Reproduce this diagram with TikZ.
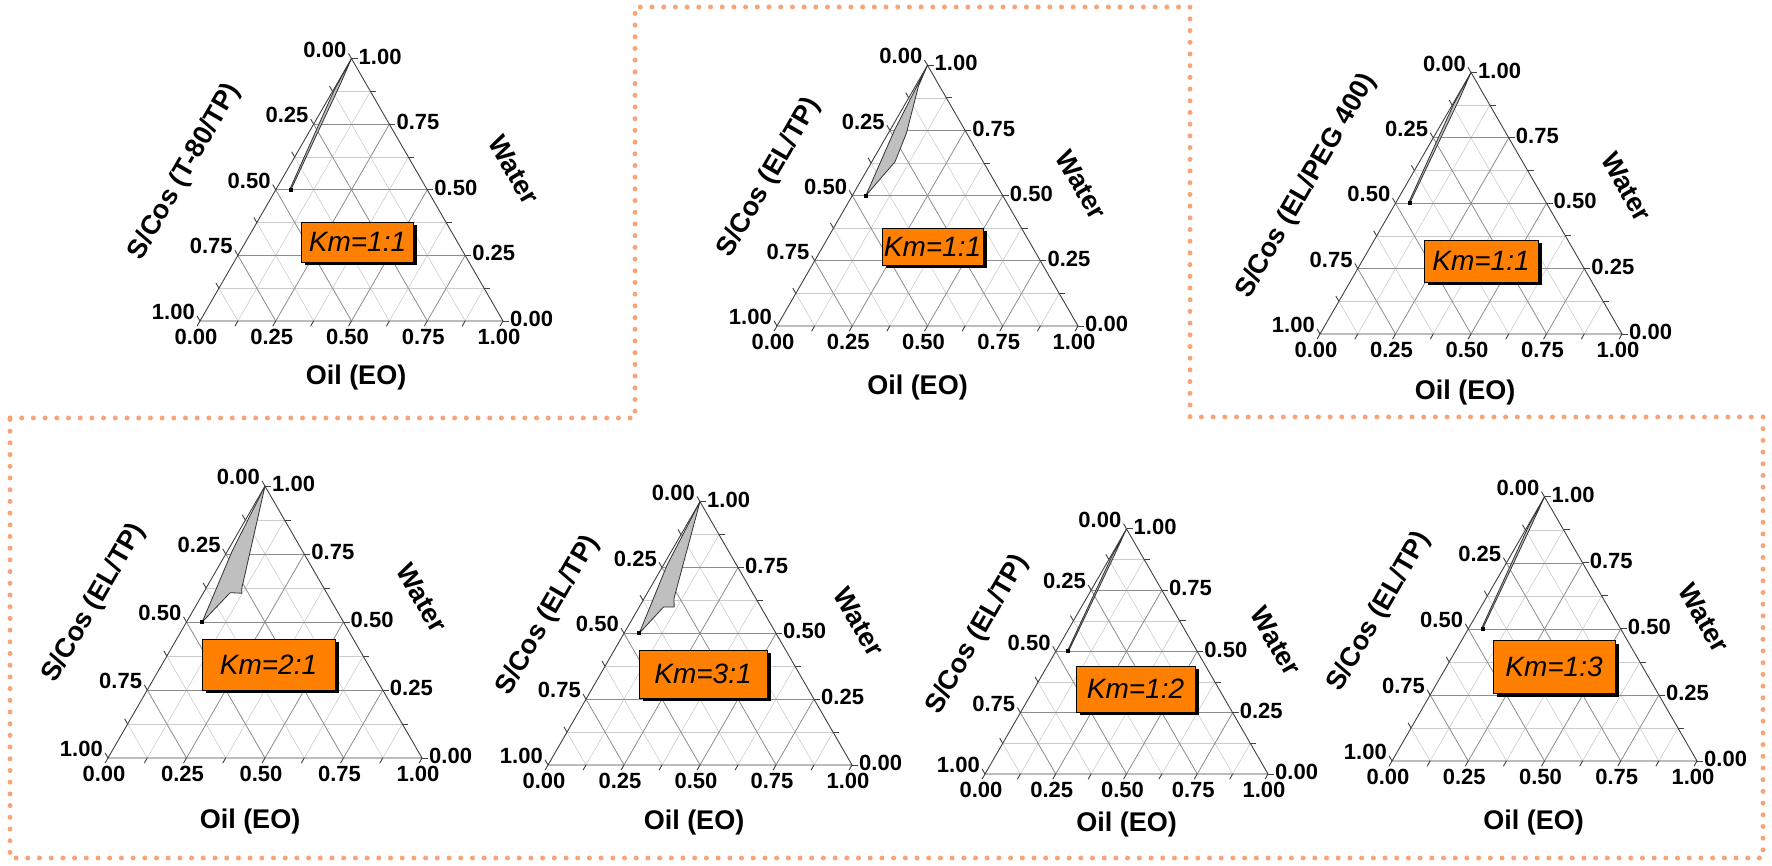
\documentclass[tikz,border=0pt]{standalone}
\usepackage{fontspec}
\setmainfont{Liberation Sans}
\usetikzlibrary{shadows}

\definecolor{kmorange}{RGB}{255,128,0}
\definecolor{dotorange}{RGB}{247,165,120}

\tikzset{
  minorgrid/.style={draw=black!20, line width=0.6pt},
  majorgrid/.style={draw=black!45, line width=0.8pt},
  frameline/.style={draw=black!75, line width=0.9pt},
  ticklabel/.style={inner sep=0pt, font=\fontsize{22}{22}\selectfont\bfseries},
  axtitle/.style={inner sep=0pt, font=\fontsize{27}{27}\selectfont\bfseries},
  kmbox/.style={draw=black, line width=0.8pt, fill=kmorange, inner sep=0pt,
    font=\fontsize{28}{28}\selectfont\itshape,
    drop shadow={shadow xshift=3.5pt, shadow yshift=-3.5pt, fill=black, opacity=1}},
  region/.style={fill=black!25, draw=black!80, line width=0.8pt, line join=round},
  dotborder/.style={draw=dotorange, line width=5pt, line cap=round, dash pattern=on 0pt off 11.7pt}
}

% triangle frame in ternary units: x = oil, y = water
\newcommand{\ternframe}[1]{%
  \foreach \fr in {0.125,0.375,0.625,0.875}{
    \draw[minorgrid] (0,\fr) -- ({1-\fr},\fr);
    \draw[minorgrid] (\fr,0) -- (\fr,{1-\fr});
    \draw[minorgrid] ({1-\fr},0) -- (0,{1-\fr});
  }
  \foreach \fr in {0.25,0.5,0.75}{
    \draw[majorgrid] (0,\fr) -- ({1-\fr},\fr);
    \draw[majorgrid] (\fr,0) -- (\fr,{1-\fr});
    \draw[majorgrid] ({1-\fr},0) -- (0,{1-\fr});
  }
  \draw[frameline] (0,0) -- (1,0) -- (0,1) -- cycle;
  \foreach \fr in {0,0.125,...,1}{
    \draw[frameline] (\fr,0) -- ++(-3pt,-5.2pt);
    \draw[frameline] (0,\fr) -- ++(-3pt,5.2pt);
    \draw[frameline] ({1-\fr},\fr) -- ++(6pt,0pt);
  }
  \foreach \val/\lab [count=\i] in {0/0.00,0.25/0.25,0.5/0.50,0.75/0.75,1/1.00}{
    \node[ticklabel, anchor=north, xshift=-4pt, yshift=-8pt] (#1-b\i) at (\val,0) {\lab};
    \node[ticklabel, anchor=east, xshift=-5pt, yshift=9pt] (#1-l\i) at (0,{1-\val}) {\lab};
    \node[ticklabel, anchor=west, xshift=7pt, yshift=2pt] (#1-r\i) at ({1-\val},\val) {\lab};
  }
}

\begin{document}
\begin{tikzpicture}[x=1pt, y=1pt]
  \useasboundingbox (0,0) rectangle (1772,866);

  % dotted frame round the two groups
  \draw[dotborder] (10,448) -- (635,448) -- (635,859) -- (1190,859) -- (1190,449)
    -- (1763,449) -- (1763,8) -- (10,8) -- cycle;

  % top row
  \begin{scope}[shift={(200,545)}, x={(303pt,0pt)}, y={(151.5pt,262.4pt)}]
    \ternframe{t1}
    \filldraw[region] (0,1) -- (0.012,0.9) -- (0.05,0.5) -- (0.045,0.505) -- (0.003,0.88) -- cycle;
    \fill (0.05,0.5) ++(-2pt,-2pt) rectangle ++(4pt,4pt);
    \node[axtitle, xshift=4.5pt, yshift=-57pt] (oil1) at (0.5,0) {Oil (EO)};
    \node[axtitle, xshift=86.5pt, yshift=20pt, rotate=-60] (water1) at (0.5,0.5) {Water};
    \node[axtitle, xshift=-91pt, yshift=18pt, rotate=60] (scos1) at (0,0.5) {S/Cos (T-80/TP)};
    \node[kmbox, minimum width=112pt, minimum height=40pt] (km1) at (157.5pt,79pt) {Km=1:1};
  \end{scope}

  \begin{scope}[shift={(777,540)}, x={(301pt,0pt)}, y={(150.5pt,260.7pt)}]
    \ternframe{t2}
    \filldraw[region] (0,1) -- (0.01,0.92) -- (0.06,0.74) -- (0.077,0.63) -- (0.045,0.5) -- (0.015,0.75) -- cycle;
    \fill (0.045,0.5) ++(-2pt,-2pt) rectangle ++(4pt,4pt);
    \node[axtitle, xshift=-10pt, yshift=-62pt] (oil2) at (0.5,0) {Oil (EO)};
    \node[axtitle, xshift=78.5pt, yshift=11pt, rotate=-60] (water2) at (0.5,0.5) {Water};
    \node[axtitle, xshift=-83pt, yshift=18pt, rotate=60] (scos2) at (0,0.5) {S/Cos (EL/TP)};
    \node[kmbox, minimum width=101pt, minimum height=37pt] (km2) at (155.5pt,79.5pt) {Km=1:1};
  \end{scope}

  \begin{scope}[shift={(1320,532)}, x={(302pt,0pt)}, y={(151pt,261.5pt)}]
    \ternframe{t3}
    \filldraw[region] (0,1) -- (0.012,0.9) -- (0.047,0.5) -- (0.042,0.505) -- (0.003,0.88) -- cycle;
    \fill (0.047,0.5) ++(-2pt,-2pt) rectangle ++(4pt,4pt);
    \node[axtitle, xshift=-6pt, yshift=-59pt] (oil3) at (0.5,0) {Oil (EO)};
    \node[axtitle, xshift=80pt, yshift=16pt, rotate=-60] (water3) at (0.5,0.5) {Water};
    \node[axtitle, xshift=-89pt, yshift=17pt, rotate=60] (scos3) at (0,0.5) {S/Cos (EL/PEG 400)};
    \node[kmbox, minimum width=114pt, minimum height=42pt] (km3) at (161pt,73pt) {Km=1:1};
  \end{scope}

  % bottom row
  \begin{scope}[shift={(108,108)}, x={(314pt,0pt)}, y={(157pt,271.9pt)}]
    \ternframe{b1}
    \filldraw[region] (0,1) -- (0.114,0.624) -- (0.123,0.606) -- (0.085,0.608) -- (0.05,0.5) -- (0.015,0.76) -- cycle;
    \fill (0.05,0.5) ++(-2pt,-2pt) rectangle ++(4pt,4pt);
    \node[axtitle, xshift=-15pt, yshift=-64pt] (oil4) at (0.5,0) {Oil (EO)};
    \node[axtitle, xshift=78.5pt, yshift=24pt, rotate=-60] (water4) at (0.5,0.5) {Water};
    \node[axtitle, xshift=-92pt, yshift=19pt, rotate=60] (scos4) at (0,0.5) {S/Cos (EL/TP)};
    \node[kmbox, minimum width=133pt, minimum height=51pt] (km4) at (160.5pt,93.5pt) {Km=2:1};
  \end{scope}

  \begin{scope}[shift={(548,101)}, x={(304pt,0pt)}, y={(152pt,263.3pt)}]
    \ternframe{b2}
    \filldraw[region] (0,1) -- (0.098,0.633) -- (0.115,0.6) -- (0.08,0.6) -- (0.05,0.5) -- (0.012,0.76) -- cycle;
    \fill (0.05,0.5) ++(-2pt,-2pt) rectangle ++(4pt,4pt);
    \node[axtitle, xshift=-6pt, yshift=-58pt] (oil5) at (0.5,0) {Oil (EO)};
    \node[axtitle, xshift=83pt, yshift=11.5pt, rotate=-60] (water5) at (0.5,0.5) {Water};
    \node[axtitle, xshift=-76pt, yshift=18pt, rotate=60] (scos5) at (0,0.5) {S/Cos (EL/TP)};
    \node[kmbox, minimum width=128pt, minimum height=48pt] (km5) at (155pt,91pt) {Km=3:1};
  \end{scope}

  \begin{scope}[shift={(985,92)}, x={(283pt,0pt)}, y={(141.5pt,245.1pt)}]
    \ternframe{b3}
    \filldraw[region] (0,1) -- (0.012,0.88) -- (0.045,0.5) -- (0.04,0.505) -- (0.004,0.89) -- cycle;
    \fill (0.045,0.5) ++(-2pt,-2pt) rectangle ++(4pt,4pt);
    \node[axtitle, xshift=0pt, yshift=-51pt] (oil6) at (0.5,0) {Oil (EO)};
    \node[axtitle, xshift=78.5pt, yshift=10pt, rotate=-60] (water6) at (0.5,0.5) {Water};
    \node[axtitle, xshift=-78pt, yshift=17pt, rotate=60] (scos6) at (0,0.5) {S/Cos (EL/TP)};
    \node[kmbox, minimum width=119pt, minimum height=46pt] (km6) at (150.5pt,85pt) {Km=1:2};
  \end{scope}

  \begin{scope}[shift={(1392,105)}, x={(305pt,0pt)}, y={(152.5pt,264.1pt)}]
    \ternframe{b4}
    \filldraw[region] (0,1) -- (0.012,0.88) -- (0.047,0.5) -- (0.042,0.505) -- (0.003,0.89) -- cycle;
    \fill (0.047,0.5) ++(-2pt,-2pt) rectangle ++(4pt,4pt);
    \node[axtitle, xshift=-11pt, yshift=-62pt] (oil7) at (0.5,0) {Oil (EO)};
    \node[axtitle, xshift=83pt, yshift=11pt, rotate=-60] (water7) at (0.5,0.5) {Water};
    \node[axtitle, xshift=-89pt, yshift=17pt, rotate=60] (scos7) at (0,0.5) {S/Cos (EL/TP)};
    \node[kmbox, minimum width=122pt, minimum height=53pt] (km7) at (162pt,94pt) {Km=1:3};
  \end{scope}
\end{tikzpicture}
\end{document}
